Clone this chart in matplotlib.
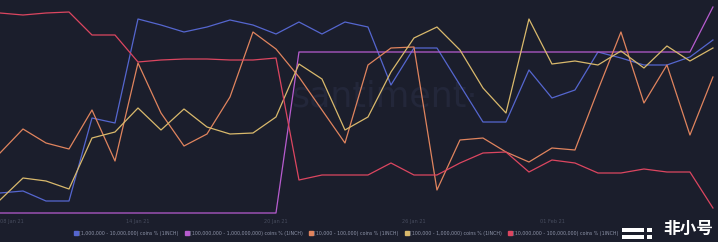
import matplotlib
matplotlib.use("Agg")
import matplotlib.pyplot as plt
from matplotlib.lines import Line2D
from matplotlib.patches import Rectangle
import numpy as np

# relative level of each band (chart has no y axis)
band_1m_10m = [22, 24, 14, 14, 97, 92, 196, 190, 183, 188, 195, 190, 181, 193, 181, 193,
               188, 130, 167, 167, 130, 93, 93, 145, 117, 125, 163, 157, 150, 150, 158, 175]
band_100m_1b = [2, 2, 2, 2, 2, 2, 2, 2, 2, 2, 2, 2, 2, 163, 163, 163,
                163, 163, 163, 163, 163, 163, 163, 163, 163, 163, 163, 163, 163, 163, 163, 208]
band_10k_100k = [62, 86, 72, 66, 105, 54, 152, 102, 69, 81, 118, 183, 166, 138, 105, 72,
                 150, 167, 168, 25, 75, 77, 63, 53, 67, 65, 125, 183, 112, 150, 80, 138]
band_100k_1m = [15, 37, 34, 26, 77, 83, 107, 85, 106, 88, 81, 82, 98, 151, 136, 85,
                98, 143, 177, 188, 165, 127, 102, 196, 151, 154, 150, 164, 147, 169, 154, 167]
band_10m_100m = [202, 200, 202, 203, 180, 180, 153, 155, 156, 156, 155, 155, 157, 35, 40, 40,
                 40, 52, 40, 40, 52, 62, 63, 43, 55, 52, 42, 42, 46, 43, 43, 7]

labels = ["[1,000,000 - 10,000,000) coins % (1INCH)",
          "[100,000,000 - 1,000,000,000) coins % (1INCH)",
          "[10,000 - 100,000) coins % (1INCH)",
          "[100,000 - 1,000,000) coins % (1INCH)",
          "[10,000,000 - 100,000,000) coins % (1INCH)"]
tick_pos = [0, 6, 12, 18, 24]
tick_labels = ["08 Jan 21", "14 Jan 21", "20 Jan 21", "26 Jan 21", "01 Feb 21"]

bg = "#1b1e2c"
colors = ["#5566cf", "#b75ccf", "#e0845e", "#d9b96c", "#dc4660"]
series = [band_1m_10m, band_100m_1b, band_10k_100k, band_100k_1m, band_10m_100m]

fig = plt.figure(figsize=(7.18, 2.42), dpi=100, facecolor=bg)
ax = fig.add_axes([0, 27 / 242, 1, 215 / 242])
ax.set_facecolor(bg)

# faint watermark behind the lines
ax.text(0.535, 0.55, "santiment·", transform=ax.transAxes, fontsize=25,
        color="#23273a", ha="center", va="center", zorder=0)

x = np.arange(len(band_1m_10m))
for ys, c in zip(series, colors):
    ax.plot(x, ys, color=c, lw=0.9, zorder=2)

ax.set_xlim(0, 31.22)
ax.set_ylim(0, 215)
ax.set_yticks([])
ax.set_xticks(tick_pos)
ax.set_xticklabels(tick_labels, fontsize=3.6, color="#474c5e")
ax.get_xticklabels()[0].set_ha("left")
ax.tick_params(axis="x", length=0, pad=3)
for s in ax.spines.values():
    s.set_visible(False)

handles = [Line2D([], [], marker="s", ls="", color=c, markersize=2.4) for c in colors]
fig.legend(handles, labels, loc="center", bbox_to_anchor=(0.482, 9 / 242), ncol=5,
           fontsize=3.4, frameon=False, handletextpad=0.15, columnspacing=1.3,
           handlelength=1.0, labelcolor="#8d93a8")

# site logo in the lower right corner
for (lx, ly, lw_, lh) in [(622, 10, 22, 4), (622, 3, 22, 4), (647, 10, 5, 4), (647, 3, 5, 4)]:
    fig.add_artist(Rectangle((lx / 718, ly / 242), lw_ / 718, lh / 242,
                             transform=fig.transFigure, color="white", lw=0))
fig.text(0.958, 0.052, "非小号", fontsize=12, color="white", fontweight="bold",
         ha="center", va="center", family=["Noto Sans CJK SC", "DejaVu Sans"])

fig.savefig("out.png", dpi=100, facecolor=bg)
